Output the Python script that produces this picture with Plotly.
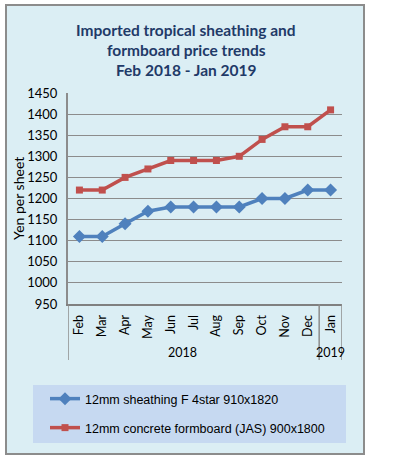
import plotly.graph_objects as go

months = ["Feb", "Mar", "Apr", "May", "Jun", "Jul", "Aug", "Sep", "Oct", "Nov", "Dec", "Jan"]
years = ["2018", "2019"]
sheathing = [1110, 1110, 1140, 1170, 1180, 1180, 1180, 1180, 1200, 1200, 1220, 1220]
formboard = [1220, 1220, 1250, 1270, 1290, 1290, 1290, 1300, 1340, 1370, 1370, 1410]
yticks = list(range(950, 1451, 50))

W, H = 398, 464
L, R, T, B = 68, 56, 93, 160
pw, ph = W - L - R, H - T - B

def px(x):
    return (x - L) / pw

def py(y):
    return (H - B - y) / ph

xs = list(range(len(months)))
fig = go.Figure()
fig.add_trace(go.Scatter(
    x=xs, y=sheathing, mode="lines+markers", name="12mm sheathing F 4star 910x1820",
    line=dict(color="#4F81BD", width=3.5), marker=dict(symbol="diamond", size=10, color="#4F81BD"),
    legend="legend"))
fig.add_trace(go.Scatter(
    x=xs, y=formboard, mode="lines+markers", name="12mm concrete formboard (JAS) 900x1800",
    line=dict(color="#C0504D", width=3.5), marker=dict(symbol="square", size=7, color="#C0504D"),
    legend="legend2"))

shapes = [
    dict(type="rect", xref="paper", yref="paper", x0=px(6), x1=px(364), y0=py(454), y1=py(5),
         line=dict(color="#8C8C8C", width=2), fillcolor="#DBEEF4", layer="below"),
    dict(type="rect", xref="paper", yref="paper", x0=px(33), x1=px(346), y0=py(443), y1=py(385),
         line=dict(width=0), fillcolor="#C6D9F1", layer="below"),
]
for xv in [-0.5, 10.5, 11.5]:
    shapes.append(dict(type="line", xref="x", yref="paper", x0=xv, x1=xv, y0=0, y1=py(360),
                       line=dict(color="#8C8C8C", width=1.5)))

title_lines = ["Imported tropical sheathing and", "formboard price trends", "Feb 2018 - Jan 2019"]
annotations = []
for i, t in enumerate(title_lines):
    annotations.append(dict(text="<b>%s</b>" % t, xref="paper", yref="paper", x=px(186), y=py(30 + 20 * i),
                            showarrow=False, xanchor="center", yanchor="middle",
                            font=dict(family="Lato", size=15.5, color="#1F3A68")))
annotations.append(dict(text=years[0], xref="x", yref="paper", x=4.5, y=py(352), showarrow=False,
                        xanchor="center", yanchor="middle", font=dict(family="Lato", size=12.5, color="black")))
annotations.append(dict(text=years[1], xref="x", yref="paper", x=11, y=py(352), showarrow=False,
                        xanchor="center", yanchor="middle", font=dict(family="Lato", size=12.5, color="black")))
annotations.append(dict(text="Yen per sheet", xref="paper", yref="paper", x=px(18), y=py(199), showarrow=False,
                        textangle=-90, xanchor="center", yanchor="middle",
                        font=dict(family="Lato", size=14, color="black")))

legend_common = dict(bgcolor="rgba(0,0,0,0)", borderwidth=0, xanchor="left", yanchor="middle",
                     font=dict(family="Liberation Sans", size=12.5, color="black"))

fig.update_layout(
    width=W, height=H,
    margin=dict(l=L, r=R, t=T, b=B),
    paper_bgcolor="white",
    plot_bgcolor="#D9D9D9",
    shapes=shapes,
    annotations=annotations,
    legend=dict(x=px(45), y=py(399), **legend_common),
    legend2=dict(x=px(45), y=py(428), **legend_common),
    xaxis=dict(range=[-0.5, 11.5], tickmode="array", tickvals=xs, ticktext=months, tickangle=-90,
               showgrid=False, showline=True, linecolor="#808080", linewidth=2, ticks="",
               tickfont=dict(family="Lato", size=12.5, color="black"), ticklabelstandoff=4, zeroline=False),
    yaxis=dict(range=[950, 1450], tickmode="array", tickvals=yticks, showgrid=True, gridcolor="#8C8C8C",
               gridwidth=1, showline=True, linecolor="#8C8C8C", linewidth=2, ticks="", zeroline=False,
               tickfont=dict(family="Lato", size=13, color="black"), ticklabelstandoff=6),
    showlegend=True,
)

fig.write_html("out.html", config={"displayModeBar": False},
               post_script="document.body.style.margin='0';document.body.style.padding='0';")
